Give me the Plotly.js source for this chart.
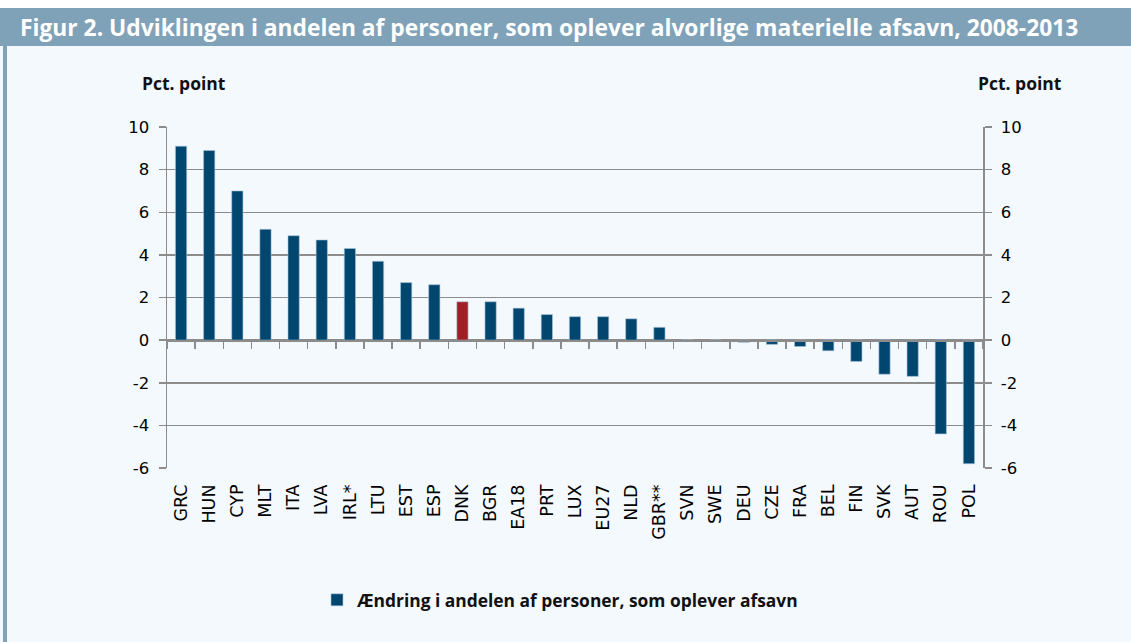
<!DOCTYPE html>
<html>
<head>
<meta charset="utf-8">
<script src="https://cdn.plot.ly/plotly-3.0.1.min.js"></script>
<style>
  html, body { margin: 0; padding: 0; background: #ffffff; }
  #chart { width: 1131px; height: 642px; }
</style>
</head>
<body>
<div id="chart"></div>
<script>
// ---- Data ----
const countries = ["GRC","HUN","CYP","MLT","ITA","LVA","IRL*","LTU","EST","ESP","DNK","BGR","EA18","PRT","LUX","EU27","NLD","GBR**","SVN","SWE","DEU","CZE","FRA","BEL","FIN","SVK","AUT","ROU","POL"];
const changes = [9.1, 8.9, 7.0, 5.2, 4.9, 4.7, 4.3, 3.7, 2.7, 2.6, 1.8, 1.8, 1.5, 1.2, 1.1, 1.1, 1.0, 0.6, 0.0, 0.0, -0.1, -0.2, -0.3, -0.5, -1.0, -1.6, -1.7, -4.4, -5.8];
const highlight = "DNK";
const yTicks = [-6, -4, -2, 0, 2, 4, 6, 8, 10];
const seriesName = "Ændring i andelen af personer, som oplever afsavn";
const titleText = "Figur 2. Udviklingen i andelen af personer, som oplever alvorlige materielle afsavn, 2008-2013";
const unitLabel = "Pct. point";

// ---- Styling ----
const BLUE = "#00466f", RED = "#a01f24", GRID = "#8c8c8c";
const BODY = "#f4f9fd", BAR = "#7fa2b8";
const W = 1131, H = 642;
const M = {l: 167, r: 148, t: 127, b: 174};
const PW = W - M.l - M.r, PH = H - M.t - M.b;
const px2x = p => (p - M.l) / PW;
const px2y = p => (H - M.b - p) / PH;
const yMin = -6, yMax = 10;
const zeroPos = (0 - yMin) / (yMax - yMin);

const colors = countries.map(c => c === highlight ? RED : BLUE);
const tickFont = {family: "DejaVu Sans", size: 16.5, color: "#000"};
const BOLD = "Open Sans";

const traces = [
  {
    type: "bar", x: countries, y: changes, name: seriesName,
    marker: {color: colors, line: {color: "#a9c6dc", width: 0.6}},
    hoverinfo: "x+y", showlegend: true
  },
  {
    type: "bar", x: countries, y: changes, xaxis: "x2", yaxis: "y2",
    marker: {color: "rgba(0,0,0,0)"}, hoverinfo: "skip", showlegend: false
  }
];

const yAxisCommon = {
  range: [yMin, yMax], tickvals: yTicks, ticktext: yTicks.map(String),
  showgrid: true, gridcolor: GRID, gridwidth: 1.5, zeroline: false,
  showline: true, linecolor: GRID, linewidth: 1.5,
  ticks: "outside", ticklen: 7, tickcolor: GRID, tickwidth: 1.5,
  ticklabelstandoff: 6, tickfont: tickFont, fixedrange: true
};

const layout = {
  width: W, height: H,
  margin: M,
  paper_bgcolor: BODY, plot_bgcolor: BODY,
  bargap: 0.6,
  font: {family: "DejaVu Sans", color: "#000"},
  xaxis: {
    type: "category", categoryorder: "array", categoryarray: countries,
    showgrid: false, zeroline: false, showline: false, ticks: "",
    tickangle: -90, tickfont: {family: "DejaVu Sans", size: 17.5, color: "#000"},
    ticklabelstandoff: 12, fixedrange: true
  },
  xaxis2: {
    type: "category", categoryorder: "array", categoryarray: countries,
    overlaying: "x", anchor: "free", position: zeroPos, side: "bottom",
    showticklabels: false, showgrid: false, zeroline: false,
    showline: true, linecolor: GRID, linewidth: 1.5,
    ticks: "outside", tickson: "boundaries", ticklen: 7, tickcolor: GRID, tickwidth: 1.5,
    fixedrange: true
  },
  yaxis: Object.assign({}, yAxisCommon, {side: "left"}),
  yaxis2: Object.assign({}, yAxisCommon, {side: "right", overlaying: "y", showgrid: false}),
  showlegend: true,
  legend: {
    orientation: "h", x: px2x(560), xanchor: "center", y: px2y(600), yanchor: "middle",
    bgcolor: "rgba(0,0,0,0)", font: {family: BOLD, size: 17.4, weight: "bold", color: "#111"},
    itemwidth: 30
  },
  shapes: [
    {type: "rect", xref: "paper", yref: "paper", x0: px2x(0), x1: px2x(W), y0: px2y(0), y1: px2y(8),
     fillcolor: "#ffffff", line: {width: 0}, layer: "below"},
    {type: "rect", xref: "paper", yref: "paper", x0: px2x(0), x1: px2x(W), y0: px2y(8), y1: px2y(46),
     fillcolor: BAR, line: {width: 0}, layer: "below"},
    {type: "rect", xref: "paper", yref: "paper", x0: px2x(3), x1: px2x(7), y0: px2y(46), y1: px2y(H),
     fillcolor: BAR, line: {width: 0}, layer: "below"}
  ],
  annotations: [
    {text: titleText, xref: "paper", yref: "paper", x: px2x(18), xanchor: "left", y: px2y(27.5), yanchor: "middle",
     showarrow: false, font: {family: BOLD, size: 22.8, weight: "bold", color: "#ffffff"}},
    {text: unitLabel, xref: "paper", yref: "paper", x: px2x(184), xanchor: "center", y: px2y(83), yanchor: "middle",
     showarrow: false, font: {family: BOLD, size: 17.5, weight: "bold", color: "#111"}},
    {text: unitLabel, xref: "paper", yref: "paper", x: px2x(1020), xanchor: "center", y: px2y(83), yanchor: "middle",
     showarrow: false, font: {family: BOLD, size: 17.5, weight: "bold", color: "#111"}}
  ]
};

Plotly.newPlot("chart", traces, layout, {displayModeBar: false, staticPlot: true});
</script>
</body>
</html>
